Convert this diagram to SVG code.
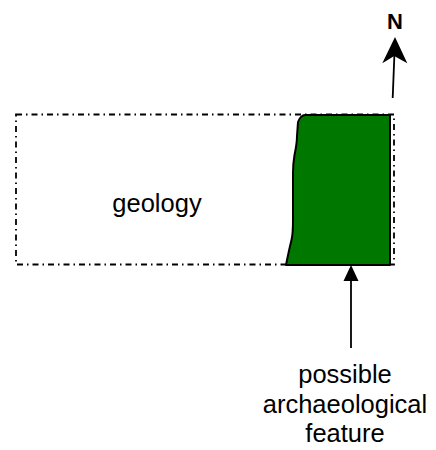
<svg xmlns="http://www.w3.org/2000/svg" width="436" height="450" viewBox="0 0 436 450">
  <style>
    .lbl { font-family: "Liberation Sans", Arial, sans-serif; font-size: 25.5px; fill: #000; text-anchor: middle; }
    .north { font-family: "Liberation Sans", Arial, sans-serif; font-size: 22px; font-weight: bold; fill: #000; text-anchor: middle; }
    .conn { stroke: #000; stroke-width: 1.8; fill: none; }
  </style>
  <rect width="436" height="450" fill="#fff"/>
  <g id="geology">
    <rect x="16" y="114.5" width="378" height="150" fill="none" stroke="#000" stroke-width="1.8" stroke-dasharray="6 4 1.5 4"/>
    <text class="lbl" x="157" y="212">geology</text>
  </g>
  <g id="feature">
    <path d="M305 115 L390 115 L390 265 L286 265 C288 255 290 246 291.5 240 C293 234 293 230 293 220 L293 173 C293 165 294 158 294.5 155 C296 148 297 142 297 136 L298 122 C300 117 302 115 305 115 Z" fill="#007800" stroke="#000" stroke-width="2" stroke-linejoin="round"/>
  </g>
  <g id="label">
    <text class="lbl" x="345" y="383">possible</text>
    <text class="lbl" x="345" y="413">archaeological</text>
    <text class="lbl" x="345" y="442">feature</text>
  </g>
  <g id="north">
    <text class="north" x="395" y="29">N</text>
  </g>
  <g id="connectors">
    <line class="conn" x1="392.7" y1="98" x2="394.5" y2="52"/>
    <polygon points="395,37 382.3,63.3 394.2,56 407.3,63.3" fill="#000"/>
    <line class="conn" x1="351" y1="348" x2="351" y2="278"/>
    <polygon points="351,265 343.5,281 358.5,281" fill="#000"/>
  </g>
</svg>
